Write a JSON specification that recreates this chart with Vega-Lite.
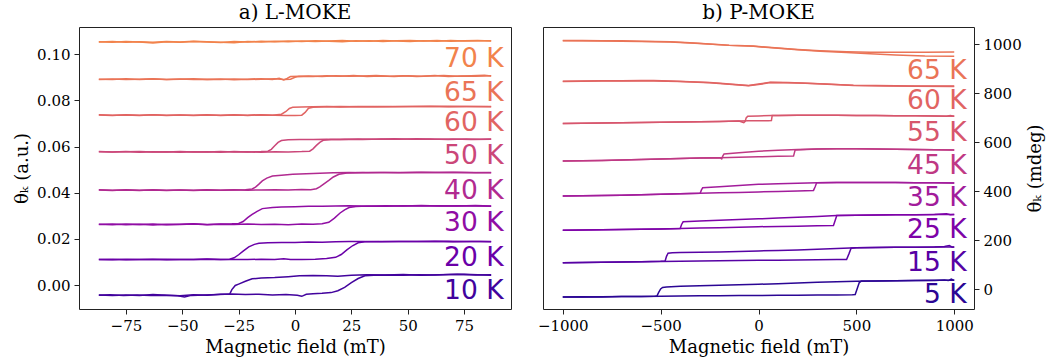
{
"$schema": "https://vega.github.io/schema/vega-lite/v6.json",
"background": "white",
"padding": {"left": 13, "top": 2, "right": 4, "bottom": 2},
"config": {
  "font": "DejaVu Serif",
  "view": {"stroke": "#222222", "strokeWidth": 1},
  "axis": {"domain": false, "grid": false, "tickColor": "#222222", "tickSize": 5, "labelColor": "black", "titleColor": "black", "labelFont": "DejaVu Serif", "titleFont": "DejaVu Serif", "labelFontSize": 15, "titleFontSize": 18, "titleFontWeight": "normal", "labelPadding": 4, "titlePadding": 5},
  "title": {"font": "DejaVu Serif", "fontSize": 20, "fontWeight": "normal", "color": "black", "anchor": "middle", "frame": "group", "offset": 0},
  "concat": {"spacing": 24}
},
"datasets": {
"a": [
{"T":10,"s":"10d","x":-87,"y":-0.0043},{"T":10,"s":"10d","x":-81,"y":-0.0046},{"T":10,"s":"10d","x":-75,"y":-0.0043},{"T":10,"s":"10d","x":-69,"y":-0.0045},{"T":10,"s":"10d","x":-63,"y":-0.0041},{"T":10,"s":"10d","x":-57,"y":-0.0044},{"T":10,"s":"10d","x":-51,"y":-0.0047},{"T":10,"s":"10d","x":-45,"y":-0.0042},{"T":10,"s":"10d","x":-39,"y":-0.0044},{"T":10,"s":"10d","x":-33,"y":-0.0040},{"T":10,"s":"10d","x":-29,"y":-0.0040},{"T":10,"s":"10d","x":-28,"y":-0.0020},{"T":10,"s":"10d","x":-26.5,"y":-0.0002},{"T":10,"s":"10d","x":-25,"y":0.0004},{"T":10,"s":"10d","x":-22,"y":0.0016},{"T":10,"s":"10d","x":-19,"y":0.0027},{"T":10,"s":"10d","x":-15,"y":0.0030},{"T":10,"s":"10d","x":-9,"y":0.0032},{"T":10,"s":"10d","x":-3,"y":0.0036},{"T":10,"s":"10d","x":2,"y":0.0040},{"T":10,"s":"10d","x":8,"y":0.0041},{"T":10,"s":"10d","x":14,"y":0.0040},{"T":10,"s":"10d","x":19,"y":0.0038},{"T":10,"s":"10d","x":25,"y":0.0042},{"T":10,"s":"10d","x":32,"y":0.0044},{"T":10,"s":"10d","x":40,"y":0.0043},{"T":10,"s":"10d","x":48,"y":0.0045},{"T":10,"s":"10d","x":56,"y":0.0042},{"T":10,"s":"10d","x":64,"y":0.0044},{"T":10,"s":"10d","x":72,"y":0.0047},{"T":10,"s":"10d","x":80,"y":0.0043},{"T":10,"s":"10d","x":87,"y":0.0044},
{"T":10,"s":"10u","x":-87,"y":-0.0044},{"T":10,"s":"10u","x":-82,"y":-0.0042},{"T":10,"s":"10u","x":-76,"y":-0.0045},{"T":10,"s":"10u","x":-70,"y":-0.0043},{"T":10,"s":"10u","x":-64,"y":-0.0046},{"T":10,"s":"10u","x":-58,"y":-0.0044},{"T":10,"s":"10u","x":-52,"y":-0.0047},{"T":10,"s":"10u","x":-49,"y":-0.0052},{"T":10,"s":"10u","x":-46,"y":-0.0045},{"T":10,"s":"10u","x":-40,"y":-0.0043},{"T":10,"s":"10u","x":-34,"y":-0.0041},{"T":10,"s":"10u","x":-28,"y":-0.0039},{"T":10,"s":"10u","x":-22,"y":-0.0041},{"T":10,"s":"10u","x":-16,"y":-0.0040},{"T":10,"s":"10u","x":-10,"y":-0.0043},{"T":10,"s":"10u","x":-4,"y":-0.0041},{"T":10,"s":"10u","x":1,"y":-0.0044},{"T":10,"s":"10u","x":3,"y":-0.0049},{"T":10,"s":"10u","x":5,"y":-0.0040},{"T":10,"s":"10u","x":8,"y":-0.0038},{"T":10,"s":"10u","x":12,"y":-0.0036},{"T":10,"s":"10u","x":16,"y":-0.0033},{"T":10,"s":"10u","x":19,"y":-0.0025},{"T":10,"s":"10u","x":22,"y":-0.0010},{"T":10,"s":"10u","x":25,"y":0.0010},{"T":10,"s":"10u","x":28,"y":0.0028},{"T":10,"s":"10u","x":31,"y":0.0040},{"T":10,"s":"10u","x":35,"y":0.0042},{"T":10,"s":"10u","x":41,"y":0.0043},{"T":10,"s":"10u","x":48,"y":0.0042},{"T":10,"s":"10u","x":55,"y":0.0044},{"T":10,"s":"10u","x":62,"y":0.0043},{"T":10,"s":"10u","x":69,"y":0.0045},{"T":10,"s":"10u","x":75,"y":0.0047},{"T":10,"s":"10u","x":81,"y":0.0044},{"T":10,"s":"10u","x":87,"y":0.0042},
{"T":20,"s":"20d","x":-87,"y":0.0111},{"T":20,"s":"20d","x":-81,"y":0.0109},{"T":20,"s":"20d","x":-75,"y":0.0112},{"T":20,"s":"20d","x":-69,"y":0.0110},{"T":20,"s":"20d","x":-63,"y":0.0112},{"T":20,"s":"20d","x":-57,"y":0.0109},{"T":20,"s":"20d","x":-51,"y":0.0111},{"T":20,"s":"20d","x":-45,"y":0.0110},{"T":20,"s":"20d","x":-39,"y":0.0112},{"T":20,"s":"20d","x":-33,"y":0.0111},{"T":20,"s":"20d","x":-29,"y":0.0112},{"T":20,"s":"20d","x":-27,"y":0.0118},{"T":20,"s":"20d","x":-25,"y":0.0131},{"T":20,"s":"20d","x":-23,"y":0.0147},{"T":20,"s":"20d","x":-20.5,"y":0.0165},{"T":20,"s":"20d","x":-18,"y":0.0176},{"T":20,"s":"20d","x":-16,"y":0.0181},{"T":20,"s":"20d","x":-12,"y":0.0183},{"T":20,"s":"20d","x":-6,"y":0.0184},{"T":20,"s":"20d","x":0,"y":0.0184},{"T":20,"s":"20d","x":6,"y":0.0186},{"T":20,"s":"20d","x":12,"y":0.0185},{"T":20,"s":"20d","x":18,"y":0.0187},{"T":20,"s":"20d","x":24,"y":0.0188},{"T":20,"s":"20d","x":30,"y":0.0189},{"T":20,"s":"20d","x":38,"y":0.0187},{"T":20,"s":"20d","x":46,"y":0.0189},{"T":20,"s":"20d","x":54,"y":0.0188},{"T":20,"s":"20d","x":62,"y":0.0190},{"T":20,"s":"20d","x":70,"y":0.0187},{"T":20,"s":"20d","x":78,"y":0.0189},{"T":20,"s":"20d","x":87,"y":0.0188},
{"T":20,"s":"20u","x":-87,"y":0.0110},{"T":20,"s":"20u","x":-81,"y":0.0112},{"T":20,"s":"20u","x":-75,"y":0.0109},{"T":20,"s":"20u","x":-69,"y":0.0111},{"T":20,"s":"20u","x":-63,"y":0.0110},{"T":20,"s":"20u","x":-57,"y":0.0112},{"T":20,"s":"20u","x":-51,"y":0.0110},{"T":20,"s":"20u","x":-45,"y":0.0111},{"T":20,"s":"20u","x":-39,"y":0.0113},{"T":20,"s":"20u","x":-33,"y":0.0110},{"T":20,"s":"20u","x":-27,"y":0.0111},{"T":20,"s":"20u","x":-21,"y":0.0110},{"T":20,"s":"20u","x":-15,"y":0.0112},{"T":20,"s":"20u","x":-9,"y":0.0110},{"T":20,"s":"20u","x":-5,"y":0.0114},{"T":20,"s":"20u","x":-2,"y":0.0110},{"T":20,"s":"20u","x":3,"y":0.0111},{"T":20,"s":"20u","x":9,"y":0.0112},{"T":20,"s":"20u","x":14,"y":0.0115},{"T":20,"s":"20u","x":18,"y":0.0120},{"T":20,"s":"20u","x":20.5,"y":0.0132},{"T":20,"s":"20u","x":23,"y":0.0152},{"T":20,"s":"20u","x":25.5,"y":0.0170},{"T":20,"s":"20u","x":28,"y":0.0183},{"T":20,"s":"20u","x":31,"y":0.0187},{"T":20,"s":"20u","x":37,"y":0.0189},{"T":20,"s":"20u","x":44,"y":0.0188},{"T":20,"s":"20u","x":52,"y":0.0189},{"T":20,"s":"20u","x":60,"y":0.0188},{"T":20,"s":"20u","x":68,"y":0.0190},{"T":20,"s":"20u","x":76,"y":0.0188},{"T":20,"s":"20u","x":82,"y":0.0189},{"T":20,"s":"20u","x":87,"y":0.0187},
{"T":30,"s":"30d","x":-87,"y":0.0263},{"T":30,"s":"30d","x":-81,"y":0.0261},{"T":30,"s":"30d","x":-75,"y":0.0264},{"T":30,"s":"30d","x":-69,"y":0.0262},{"T":30,"s":"30d","x":-63,"y":0.0264},{"T":30,"s":"30d","x":-57,"y":0.0261},{"T":30,"s":"30d","x":-51,"y":0.0263},{"T":30,"s":"30d","x":-45,"y":0.0265},{"T":30,"s":"30d","x":-39,"y":0.0262},{"T":30,"s":"30d","x":-33,"y":0.0264},{"T":30,"s":"30d","x":-28,"y":0.0265},{"T":30,"s":"30d","x":-25,"y":0.0267},{"T":30,"s":"30d","x":-23,"y":0.0275},{"T":30,"s":"30d","x":-21,"y":0.0292},{"T":30,"s":"30d","x":-19,"y":0.0306},{"T":30,"s":"30d","x":-17,"y":0.0318},{"T":30,"s":"30d","x":-14.5,"y":0.0331},{"T":30,"s":"30d","x":-10,"y":0.0336},{"T":30,"s":"30d","x":-6,"y":0.0338},{"T":30,"s":"30d","x":0,"y":0.0339},{"T":30,"s":"30d","x":6,"y":0.0341},{"T":30,"s":"30d","x":12,"y":0.0341},{"T":30,"s":"30d","x":18,"y":0.0342},{"T":30,"s":"30d","x":24,"y":0.0343},{"T":30,"s":"30d","x":32,"y":0.0341},{"T":30,"s":"30d","x":40,"y":0.0343},{"T":30,"s":"30d","x":48,"y":0.0342},{"T":30,"s":"30d","x":56,"y":0.0344},{"T":30,"s":"30d","x":64,"y":0.0342},{"T":30,"s":"30d","x":72,"y":0.0343},{"T":30,"s":"30d","x":80,"y":0.0342},{"T":30,"s":"30d","x":87,"y":0.0341},
{"T":30,"s":"30u","x":-87,"y":0.0262},{"T":30,"s":"30u","x":-81,"y":0.0264},{"T":30,"s":"30u","x":-75,"y":0.0261},{"T":30,"s":"30u","x":-69,"y":0.0263},{"T":30,"s":"30u","x":-63,"y":0.0260},{"T":30,"s":"30u","x":-57,"y":0.0263},{"T":30,"s":"30u","x":-51,"y":0.0262},{"T":30,"s":"30u","x":-45,"y":0.0264},{"T":30,"s":"30u","x":-39,"y":0.0261},{"T":30,"s":"30u","x":-33,"y":0.0263},{"T":30,"s":"30u","x":-27,"y":0.0262},{"T":30,"s":"30u","x":-21,"y":0.0264},{"T":30,"s":"30u","x":-15,"y":0.0262},{"T":30,"s":"30u","x":-9,"y":0.0263},{"T":30,"s":"30u","x":-3,"y":0.0261},{"T":30,"s":"30u","x":3,"y":0.0264},{"T":30,"s":"30u","x":8,"y":0.0263},{"T":30,"s":"30u","x":12,"y":0.0265},{"T":30,"s":"30u","x":15,"y":0.0272},{"T":30,"s":"30u","x":17.5,"y":0.0290},{"T":30,"s":"30u","x":20,"y":0.0312},{"T":30,"s":"30u","x":22,"y":0.0326},{"T":30,"s":"30u","x":24,"y":0.0336},{"T":30,"s":"30u","x":27,"y":0.0340},{"T":30,"s":"30u","x":32,"y":0.0342},{"T":30,"s":"30u","x":40,"y":0.0341},{"T":30,"s":"30u","x":48,"y":0.0343},{"T":30,"s":"30u","x":56,"y":0.0342},{"T":30,"s":"30u","x":64,"y":0.0343},{"T":30,"s":"30u","x":72,"y":0.0342},{"T":30,"s":"30u","x":80,"y":0.0344},{"T":30,"s":"30u","x":87,"y":0.0342},
{"T":40,"s":"40d","x":-87,"y":0.0412},{"T":40,"s":"40d","x":-81,"y":0.0410},{"T":40,"s":"40d","x":-75,"y":0.0413},{"T":40,"s":"40d","x":-69,"y":0.0411},{"T":40,"s":"40d","x":-63,"y":0.0412},{"T":40,"s":"40d","x":-57,"y":0.0410},{"T":40,"s":"40d","x":-51,"y":0.0412},{"T":40,"s":"40d","x":-45,"y":0.0411},{"T":40,"s":"40d","x":-39,"y":0.0413},{"T":40,"s":"40d","x":-33,"y":0.0411},{"T":40,"s":"40d","x":-27,"y":0.0412},{"T":40,"s":"40d","x":-22,"y":0.0413},{"T":40,"s":"40d","x":-19,"y":0.0416},{"T":40,"s":"40d","x":-17.5,"y":0.0424},{"T":40,"s":"40d","x":-16,"y":0.0437},{"T":40,"s":"40d","x":-14.5,"y":0.0451},{"T":40,"s":"40d","x":-12.5,"y":0.0463},{"T":40,"s":"40d","x":-10,"y":0.0472},{"T":40,"s":"40d","x":-6,"y":0.0476},{"T":40,"s":"40d","x":-1,"y":0.0480},{"T":40,"s":"40d","x":5,"y":0.0482},{"T":40,"s":"40d","x":11,"y":0.0484},{"T":40,"s":"40d","x":17,"y":0.0486},{"T":40,"s":"40d","x":24,"y":0.0487},{"T":40,"s":"40d","x":32,"y":0.0486},{"T":40,"s":"40d","x":40,"y":0.0488},{"T":40,"s":"40d","x":48,"y":0.0487},{"T":40,"s":"40d","x":56,"y":0.0489},{"T":40,"s":"40d","x":64,"y":0.0487},{"T":40,"s":"40d","x":72,"y":0.0488},{"T":40,"s":"40d","x":80,"y":0.0486},{"T":40,"s":"40d","x":87,"y":0.0488},
{"T":40,"s":"40u","x":-87,"y":0.0413},{"T":40,"s":"40u","x":-81,"y":0.0411},{"T":40,"s":"40u","x":-75,"y":0.0412},{"T":40,"s":"40u","x":-69,"y":0.0410},{"T":40,"s":"40u","x":-63,"y":0.0413},{"T":40,"s":"40u","x":-57,"y":0.0411},{"T":40,"s":"40u","x":-51,"y":0.0412},{"T":40,"s":"40u","x":-45,"y":0.0410},{"T":40,"s":"40u","x":-39,"y":0.0412},{"T":40,"s":"40u","x":-33,"y":0.0411},{"T":40,"s":"40u","x":-27,"y":0.0413},{"T":40,"s":"40u","x":-21,"y":0.0411},{"T":40,"s":"40u","x":-15,"y":0.0412},{"T":40,"s":"40u","x":-9,"y":0.0413},{"T":40,"s":"40u","x":-3,"y":0.0412},{"T":40,"s":"40u","x":3,"y":0.0414},{"T":40,"s":"40u","x":7,"y":0.0413},{"T":40,"s":"40u","x":9.5,"y":0.0417},{"T":40,"s":"40u","x":11,"y":0.0425},{"T":40,"s":"40u","x":13,"y":0.0439},{"T":40,"s":"40u","x":15,"y":0.0453},{"T":40,"s":"40u","x":17,"y":0.0468},{"T":40,"s":"40u","x":19.5,"y":0.0480},{"T":40,"s":"40u","x":23,"y":0.0485},{"T":40,"s":"40u","x":30,"y":0.0487},{"T":40,"s":"40u","x":38,"y":0.0488},{"T":40,"s":"40u","x":46,"y":0.0486},{"T":40,"s":"40u","x":54,"y":0.0488},{"T":40,"s":"40u","x":62,"y":0.0487},{"T":40,"s":"40u","x":70,"y":0.0489},{"T":40,"s":"40u","x":78,"y":0.0487},{"T":40,"s":"40u","x":87,"y":0.0486},
{"T":50,"s":"50d","x":-87,"y":0.0577},{"T":50,"s":"50d","x":-81,"y":0.0576},{"T":50,"s":"50d","x":-75,"y":0.0578},{"T":50,"s":"50d","x":-69,"y":0.0575},{"T":50,"s":"50d","x":-63,"y":0.0577},{"T":50,"s":"50d","x":-57,"y":0.0576},{"T":50,"s":"50d","x":-51,"y":0.0578},{"T":50,"s":"50d","x":-45,"y":0.0576},{"T":50,"s":"50d","x":-39,"y":0.0577},{"T":50,"s":"50d","x":-33,"y":0.0575},{"T":50,"s":"50d","x":-27,"y":0.0578},{"T":50,"s":"50d","x":-21,"y":0.0576},{"T":50,"s":"50d","x":-15,"y":0.0578},{"T":50,"s":"50d","x":-12,"y":0.0580},{"T":50,"s":"50d","x":-10.5,"y":0.0588},{"T":50,"s":"50d","x":-9,"y":0.0603},{"T":50,"s":"50d","x":-7.5,"y":0.0618},{"T":50,"s":"50d","x":-6,"y":0.0626},{"T":50,"s":"50d","x":-3,"y":0.0629},{"T":50,"s":"50d","x":2,"y":0.0630},{"T":50,"s":"50d","x":8,"y":0.0631},{"T":50,"s":"50d","x":14,"y":0.0632},{"T":50,"s":"50d","x":20,"y":0.0631},{"T":50,"s":"50d","x":28,"y":0.0633},{"T":50,"s":"50d","x":36,"y":0.0632},{"T":50,"s":"50d","x":44,"y":0.0634},{"T":50,"s":"50d","x":52,"y":0.0632},{"T":50,"s":"50d","x":60,"y":0.0633},{"T":50,"s":"50d","x":68,"y":0.0631},{"T":50,"s":"50d","x":76,"y":0.0633},{"T":50,"s":"50d","x":82,"y":0.0632},{"T":50,"s":"50d","x":87,"y":0.0633},
{"T":50,"s":"50u","x":-87,"y":0.0578},{"T":50,"s":"50u","x":-81,"y":0.0576},{"T":50,"s":"50u","x":-75,"y":0.0577},{"T":50,"s":"50u","x":-69,"y":0.0579},{"T":50,"s":"50u","x":-63,"y":0.0576},{"T":50,"s":"50u","x":-57,"y":0.0577},{"T":50,"s":"50u","x":-51,"y":0.0575},{"T":50,"s":"50u","x":-45,"y":0.0577},{"T":50,"s":"50u","x":-39,"y":0.0576},{"T":50,"s":"50u","x":-33,"y":0.0578},{"T":50,"s":"50u","x":-27,"y":0.0576},{"T":50,"s":"50u","x":-21,"y":0.0577},{"T":50,"s":"50u","x":-15,"y":0.0575},{"T":50,"s":"50u","x":-9,"y":0.0577},{"T":50,"s":"50u","x":-3,"y":0.0576},{"T":50,"s":"50u","x":3,"y":0.0578},{"T":50,"s":"50u","x":6.5,"y":0.0580},{"T":50,"s":"50u","x":8,"y":0.0590},{"T":50,"s":"50u","x":9.5,"y":0.0605},{"T":50,"s":"50u","x":11,"y":0.0618},{"T":50,"s":"50u","x":12.5,"y":0.0627},{"T":50,"s":"50u","x":16,"y":0.0630},{"T":50,"s":"50u","x":22,"y":0.0632},{"T":50,"s":"50u","x":30,"y":0.0631},{"T":50,"s":"50u","x":38,"y":0.0633},{"T":50,"s":"50u","x":46,"y":0.0632},{"T":50,"s":"50u","x":54,"y":0.0634},{"T":50,"s":"50u","x":62,"y":0.0632},{"T":50,"s":"50u","x":70,"y":0.0633},{"T":50,"s":"50u","x":78,"y":0.0631},{"T":50,"s":"50u","x":87,"y":0.0632},
{"T":60,"s":"60d","x":-87,"y":0.0737},{"T":60,"s":"60d","x":-81,"y":0.0735},{"T":60,"s":"60d","x":-75,"y":0.0738},{"T":60,"s":"60d","x":-69,"y":0.0736},{"T":60,"s":"60d","x":-63,"y":0.0738},{"T":60,"s":"60d","x":-57,"y":0.0735},{"T":60,"s":"60d","x":-51,"y":0.0737},{"T":60,"s":"60d","x":-45,"y":0.0736},{"T":60,"s":"60d","x":-39,"y":0.0738},{"T":60,"s":"60d","x":-33,"y":0.0735},{"T":60,"s":"60d","x":-27,"y":0.0737},{"T":60,"s":"60d","x":-21,"y":0.0736},{"T":60,"s":"60d","x":-15,"y":0.0738},{"T":60,"s":"60d","x":-10,"y":0.0736},{"T":60,"s":"60d","x":-6,"y":0.0740},{"T":60,"s":"60d","x":-4,"y":0.0752},{"T":60,"s":"60d","x":-2.5,"y":0.0765},{"T":60,"s":"60d","x":-1,"y":0.0770},{"T":60,"s":"60d","x":3,"y":0.0771},{"T":60,"s":"60d","x":8,"y":0.0772},{"T":60,"s":"60d","x":14,"y":0.0773},{"T":60,"s":"60d","x":20,"y":0.0771},{"T":60,"s":"60d","x":28,"y":0.0774},{"T":60,"s":"60d","x":36,"y":0.0772},{"T":60,"s":"60d","x":44,"y":0.0774},{"T":60,"s":"60d","x":52,"y":0.0773},{"T":60,"s":"60d","x":60,"y":0.0775},{"T":60,"s":"60d","x":68,"y":0.0772},{"T":60,"s":"60d","x":76,"y":0.0774},{"T":60,"s":"60d","x":82,"y":0.0773},{"T":60,"s":"60d","x":87,"y":0.0774},
{"T":60,"s":"60u","x":-87,"y":0.0738},{"T":60,"s":"60u","x":-81,"y":0.0736},{"T":60,"s":"60u","x":-75,"y":0.0737},{"T":60,"s":"60u","x":-69,"y":0.0735},{"T":60,"s":"60u","x":-63,"y":0.0738},{"T":60,"s":"60u","x":-57,"y":0.0736},{"T":60,"s":"60u","x":-51,"y":0.0737},{"T":60,"s":"60u","x":-45,"y":0.0735},{"T":60,"s":"60u","x":-39,"y":0.0737},{"T":60,"s":"60u","x":-33,"y":0.0736},{"T":60,"s":"60u","x":-27,"y":0.0738},{"T":60,"s":"60u","x":-21,"y":0.0735},{"T":60,"s":"60u","x":-15,"y":0.0737},{"T":60,"s":"60u","x":-9,"y":0.0736},{"T":60,"s":"60u","x":-4,"y":0.0734},{"T":60,"s":"60u","x":0,"y":0.0735},{"T":60,"s":"60u","x":3,"y":0.0736},{"T":60,"s":"60u","x":4.5,"y":0.0748},{"T":60,"s":"60u","x":6,"y":0.0766},{"T":60,"s":"60u","x":8,"y":0.0770},{"T":60,"s":"60u","x":13,"y":0.0772},{"T":60,"s":"60u","x":20,"y":0.0773},{"T":60,"s":"60u","x":28,"y":0.0772},{"T":60,"s":"60u","x":36,"y":0.0774},{"T":60,"s":"60u","x":44,"y":0.0772},{"T":60,"s":"60u","x":52,"y":0.0774},{"T":60,"s":"60u","x":60,"y":0.0773},{"T":60,"s":"60u","x":68,"y":0.0775},{"T":60,"s":"60u","x":76,"y":0.0773},{"T":60,"s":"60u","x":87,"y":0.0772},
{"T":65,"s":"65d","x":-87,"y":0.0892},{"T":65,"s":"65d","x":-81,"y":0.0890},{"T":65,"s":"65d","x":-75,"y":0.0894},{"T":65,"s":"65d","x":-69,"y":0.0891},{"T":65,"s":"65d","x":-63,"y":0.0893},{"T":65,"s":"65d","x":-57,"y":0.0890},{"T":65,"s":"65d","x":-51,"y":0.0892},{"T":65,"s":"65d","x":-45,"y":0.0894},{"T":65,"s":"65d","x":-39,"y":0.0891},{"T":65,"s":"65d","x":-33,"y":0.0893},{"T":65,"s":"65d","x":-27,"y":0.0889},{"T":65,"s":"65d","x":-21,"y":0.0892},{"T":65,"s":"65d","x":-15,"y":0.0894},{"T":65,"s":"65d","x":-10,"y":0.0891},{"T":65,"s":"65d","x":-7,"y":0.0896},{"T":65,"s":"65d","x":-5,"y":0.0889},{"T":65,"s":"65d","x":-3.5,"y":0.0895},{"T":65,"s":"65d","x":-2,"y":0.0903},{"T":65,"s":"65d","x":2,"y":0.0905},{"T":65,"s":"65d","x":8,"y":0.0904},{"T":65,"s":"65d","x":14,"y":0.0907},{"T":65,"s":"65d","x":20,"y":0.0905},{"T":65,"s":"65d","x":26,"y":0.0908},{"T":65,"s":"65d","x":32,"y":0.0904},{"T":65,"s":"65d","x":38,"y":0.0906},{"T":65,"s":"65d","x":44,"y":0.0903},{"T":65,"s":"65d","x":50,"y":0.0907},{"T":65,"s":"65d","x":56,"y":0.0905},{"T":65,"s":"65d","x":62,"y":0.0908},{"T":65,"s":"65d","x":68,"y":0.0904},{"T":65,"s":"65d","x":74,"y":0.0906},{"T":65,"s":"65d","x":80,"y":0.0905},{"T":65,"s":"65d","x":87,"y":0.0907},
{"T":65,"s":"65u","x":-87,"y":0.0891},{"T":65,"s":"65u","x":-81,"y":0.0893},{"T":65,"s":"65u","x":-75,"y":0.0890},{"T":65,"s":"65u","x":-69,"y":0.0892},{"T":65,"s":"65u","x":-63,"y":0.0894},{"T":65,"s":"65u","x":-57,"y":0.0891},{"T":65,"s":"65u","x":-51,"y":0.0893},{"T":65,"s":"65u","x":-45,"y":0.0890},{"T":65,"s":"65u","x":-39,"y":0.0892},{"T":65,"s":"65u","x":-33,"y":0.0891},{"T":65,"s":"65u","x":-27,"y":0.0893},{"T":65,"s":"65u","x":-21,"y":0.0890},{"T":65,"s":"65u","x":-15,"y":0.0892},{"T":65,"s":"65u","x":-9,"y":0.0894},{"T":65,"s":"65u","x":-5,"y":0.0890},{"T":65,"s":"65u","x":-2,"y":0.0892},{"T":65,"s":"65u","x":0,"y":0.0900},{"T":65,"s":"65u","x":1.5,"y":0.0904},{"T":65,"s":"65u","x":6,"y":0.0906},{"T":65,"s":"65u","x":12,"y":0.0904},{"T":65,"s":"65u","x":18,"y":0.0907},{"T":65,"s":"65u","x":24,"y":0.0905},{"T":65,"s":"65u","x":30,"y":0.0906},{"T":65,"s":"65u","x":36,"y":0.0908},{"T":65,"s":"65u","x":42,"y":0.0905},{"T":65,"s":"65u","x":48,"y":0.0907},{"T":65,"s":"65u","x":54,"y":0.0904},{"T":65,"s":"65u","x":60,"y":0.0906},{"T":65,"s":"65u","x":66,"y":0.0908},{"T":65,"s":"65u","x":72,"y":0.0905},{"T":65,"s":"65u","x":78,"y":0.0907},{"T":65,"s":"65u","x":84,"y":0.0909},{"T":65,"s":"65u","x":87,"y":0.0906},
{"T":70,"s":"70d","x":-87,"y":0.1054},{"T":70,"s":"70d","x":-81,"y":0.1052},{"T":70,"s":"70d","x":-75,"y":0.1055},{"T":70,"s":"70d","x":-69,"y":0.1053},{"T":70,"s":"70d","x":-63,"y":0.1049},{"T":70,"s":"70d","x":-57,"y":0.1054},{"T":70,"s":"70d","x":-51,"y":0.1052},{"T":70,"s":"70d","x":-45,"y":0.1055},{"T":70,"s":"70d","x":-39,"y":0.1053},{"T":70,"s":"70d","x":-33,"y":0.1051},{"T":70,"s":"70d","x":-27,"y":0.1055},{"T":70,"s":"70d","x":-21,"y":0.1053},{"T":70,"s":"70d","x":-15,"y":0.1056},{"T":70,"s":"70d","x":-9,"y":0.1054},{"T":70,"s":"70d","x":-3,"y":0.1057},{"T":70,"s":"70d","x":3,"y":0.1055},{"T":70,"s":"70d","x":9,"y":0.1058},{"T":70,"s":"70d","x":15,"y":0.1056},{"T":70,"s":"70d","x":21,"y":0.1054},{"T":70,"s":"70d","x":27,"y":0.1058},{"T":70,"s":"70d","x":33,"y":0.1056},{"T":70,"s":"70d","x":39,"y":0.1059},{"T":70,"s":"70d","x":45,"y":0.1057},{"T":70,"s":"70d","x":51,"y":0.1055},{"T":70,"s":"70d","x":57,"y":0.1058},{"T":70,"s":"70d","x":63,"y":0.1056},{"T":70,"s":"70d","x":69,"y":0.1059},{"T":70,"s":"70d","x":75,"y":0.1057},{"T":70,"s":"70d","x":81,"y":0.1058},{"T":70,"s":"70d","x":87,"y":0.1058},
{"T":70,"s":"70u","x":-87,"y":0.1053},{"T":70,"s":"70u","x":-81,"y":0.1055},{"T":70,"s":"70u","x":-75,"y":0.1052},{"T":70,"s":"70u","x":-69,"y":0.1054},{"T":70,"s":"70u","x":-63,"y":0.1052},{"T":70,"s":"70u","x":-57,"y":0.1055},{"T":70,"s":"70u","x":-51,"y":0.1053},{"T":70,"s":"70u","x":-45,"y":0.1056},{"T":70,"s":"70u","x":-39,"y":0.1054},{"T":70,"s":"70u","x":-33,"y":0.1052},{"T":70,"s":"70u","x":-27,"y":0.1050},{"T":70,"s":"70u","x":-21,"y":0.1055},{"T":70,"s":"70u","x":-15,"y":0.1053},{"T":70,"s":"70u","x":-9,"y":0.1056},{"T":70,"s":"70u","x":-3,"y":0.1054},{"T":70,"s":"70u","x":3,"y":0.1057},{"T":70,"s":"70u","x":9,"y":0.1055},{"T":70,"s":"70u","x":15,"y":0.1057},{"T":70,"s":"70u","x":21,"y":0.1059},{"T":70,"s":"70u","x":27,"y":0.1056},{"T":70,"s":"70u","x":33,"y":0.1058},{"T":70,"s":"70u","x":39,"y":0.1055},{"T":70,"s":"70u","x":45,"y":0.1058},{"T":70,"s":"70u","x":51,"y":0.1060},{"T":70,"s":"70u","x":57,"y":0.1057},{"T":70,"s":"70u","x":63,"y":0.1059},{"T":70,"s":"70u","x":69,"y":0.1056},{"T":70,"s":"70u","x":75,"y":0.1058},{"T":70,"s":"70u","x":81,"y":0.1060},{"T":70,"s":"70u","x":87,"y":0.1057}
],
"b": [
{"T":5,"s":"5d","x":-1000,"y":-31},{"T":5,"s":"5d","x":-900,"y":-30},{"T":5,"s":"5d","x":-800,"y":-31},{"T":5,"s":"5d","x":-700,"y":-29},{"T":5,"s":"5d","x":-600,"y":-29},{"T":5,"s":"5d","x":-530,"y":-28},{"T":5,"s":"5d","x":-519,"y":-27},{"T":5,"s":"5d","x":-510,"y":-12},{"T":5,"s":"5d","x":-500,"y":2},{"T":5,"s":"5d","x":-490,"y":8},{"T":5,"s":"5d","x":-470,"y":10},{"T":5,"s":"5d","x":-400,"y":13},{"T":5,"s":"5d","x":-300,"y":15},{"T":5,"s":"5d","x":-200,"y":17},{"T":5,"s":"5d","x":-100,"y":19},{"T":5,"s":"5d","x":0,"y":21},{"T":5,"s":"5d","x":100,"y":23},{"T":5,"s":"5d","x":200,"y":26},{"T":5,"s":"5d","x":300,"y":29},{"T":5,"s":"5d","x":400,"y":31},{"T":5,"s":"5d","x":500,"y":33},{"T":5,"s":"5d","x":600,"y":34},{"T":5,"s":"5d","x":700,"y":35},{"T":5,"s":"5d","x":800,"y":36},{"T":5,"s":"5d","x":900,"y":36},{"T":5,"s":"5d","x":950,"y":38},{"T":5,"s":"5d","x":970,"y":36},{"T":5,"s":"5d","x":985,"y":42},{"T":5,"s":"5d","x":1000,"y":37},
{"T":5,"s":"5u","x":-1000,"y":-31},{"T":5,"s":"5u","x":-900,"y":-31},{"T":5,"s":"5u","x":-800,"y":-30},{"T":5,"s":"5u","x":-700,"y":-29},{"T":5,"s":"5u","x":-600,"y":-29},{"T":5,"s":"5u","x":-500,"y":-28},{"T":5,"s":"5u","x":-400,"y":-27},{"T":5,"s":"5u","x":-300,"y":-26},{"T":5,"s":"5u","x":-200,"y":-26},{"T":5,"s":"5u","x":-100,"y":-25},{"T":5,"s":"5u","x":0,"y":-25},{"T":5,"s":"5u","x":100,"y":-24},{"T":5,"s":"5u","x":200,"y":-24},{"T":5,"s":"5u","x":300,"y":-23},{"T":5,"s":"5u","x":400,"y":-23},{"T":5,"s":"5u","x":480,"y":-22},{"T":5,"s":"5u","x":494,"y":-21},{"T":5,"s":"5u","x":505,"y":5},{"T":5,"s":"5u","x":515,"y":28},{"T":5,"s":"5u","x":525,"y":34},{"T":5,"s":"5u","x":600,"y":34},{"T":5,"s":"5u","x":700,"y":35},{"T":5,"s":"5u","x":800,"y":36},{"T":5,"s":"5u","x":900,"y":37},{"T":5,"s":"5u","x":1000,"y":37},
{"T":15,"s":"15d","x":-1000,"y":109},{"T":15,"s":"15d","x":-900,"y":110},{"T":15,"s":"15d","x":-800,"y":111},{"T":15,"s":"15d","x":-700,"y":112},{"T":15,"s":"15d","x":-600,"y":113},{"T":15,"s":"15d","x":-500,"y":115},{"T":15,"s":"15d","x":-477,"y":116},{"T":15,"s":"15d","x":-470,"y":135},{"T":15,"s":"15d","x":-462,"y":148},{"T":15,"s":"15d","x":-440,"y":150},{"T":15,"s":"15d","x":-400,"y":151},{"T":15,"s":"15d","x":-300,"y":152},{"T":15,"s":"15d","x":-200,"y":153},{"T":15,"s":"15d","x":-100,"y":155},{"T":15,"s":"15d","x":0,"y":157},{"T":15,"s":"15d","x":100,"y":159},{"T":15,"s":"15d","x":200,"y":161},{"T":15,"s":"15d","x":300,"y":164},{"T":15,"s":"15d","x":400,"y":167},{"T":15,"s":"15d","x":500,"y":170},{"T":15,"s":"15d","x":600,"y":171},{"T":15,"s":"15d","x":700,"y":172},{"T":15,"s":"15d","x":800,"y":172},{"T":15,"s":"15d","x":900,"y":173},{"T":15,"s":"15d","x":950,"y":175},{"T":15,"s":"15d","x":975,"y":179},{"T":15,"s":"15d","x":990,"y":172},{"T":15,"s":"15d","x":1000,"y":173},
{"T":15,"s":"15u","x":-1000,"y":109},{"T":15,"s":"15u","x":-900,"y":110},{"T":15,"s":"15u","x":-800,"y":111},{"T":15,"s":"15u","x":-700,"y":112},{"T":15,"s":"15u","x":-600,"y":113},{"T":15,"s":"15u","x":-500,"y":114},{"T":15,"s":"15u","x":-400,"y":115},{"T":15,"s":"15u","x":-300,"y":116},{"T":15,"s":"15u","x":-200,"y":117},{"T":15,"s":"15u","x":-100,"y":118},{"T":15,"s":"15u","x":0,"y":119},{"T":15,"s":"15u","x":100,"y":119},{"T":15,"s":"15u","x":200,"y":120},{"T":15,"s":"15u","x":300,"y":121},{"T":15,"s":"15u","x":400,"y":122},{"T":15,"s":"15u","x":450,"y":122},{"T":15,"s":"15u","x":462,"y":145},{"T":15,"s":"15u","x":473,"y":168},{"T":15,"s":"15u","x":500,"y":170},{"T":15,"s":"15u","x":600,"y":171},{"T":15,"s":"15u","x":700,"y":172},{"T":15,"s":"15u","x":800,"y":172},{"T":15,"s":"15u","x":900,"y":173},{"T":15,"s":"15u","x":1000,"y":173},
{"T":25,"s":"25d","x":-1000,"y":241},{"T":25,"s":"25d","x":-900,"y":242},{"T":25,"s":"25d","x":-800,"y":243},{"T":25,"s":"25d","x":-700,"y":244},{"T":25,"s":"25d","x":-600,"y":245},{"T":25,"s":"25d","x":-500,"y":247},{"T":25,"s":"25d","x":-400,"y":249},{"T":25,"s":"25d","x":-393,"y":265},{"T":25,"s":"25d","x":-385,"y":276},{"T":25,"s":"25d","x":-300,"y":279},{"T":25,"s":"25d","x":-200,"y":282},{"T":25,"s":"25d","x":-100,"y":285},{"T":25,"s":"25d","x":0,"y":288},{"T":25,"s":"25d","x":100,"y":291},{"T":25,"s":"25d","x":200,"y":294},{"T":25,"s":"25d","x":300,"y":298},{"T":25,"s":"25d","x":400,"y":302},{"T":25,"s":"25d","x":500,"y":303},{"T":25,"s":"25d","x":600,"y":304},{"T":25,"s":"25d","x":700,"y":305},{"T":25,"s":"25d","x":800,"y":305},{"T":25,"s":"25d","x":900,"y":306},{"T":25,"s":"25d","x":960,"y":309},{"T":25,"s":"25d","x":980,"y":305},{"T":25,"s":"25d","x":1000,"y":306},
{"T":25,"s":"25u","x":-1000,"y":241},{"T":25,"s":"25u","x":-900,"y":242},{"T":25,"s":"25u","x":-800,"y":243},{"T":25,"s":"25u","x":-700,"y":244},{"T":25,"s":"25u","x":-600,"y":245},{"T":25,"s":"25u","x":-500,"y":247},{"T":25,"s":"25u","x":-400,"y":249},{"T":25,"s":"25u","x":-300,"y":251},{"T":25,"s":"25u","x":-200,"y":252},{"T":25,"s":"25u","x":-100,"y":254},{"T":25,"s":"25u","x":0,"y":256},{"T":25,"s":"25u","x":100,"y":257},{"T":25,"s":"25u","x":200,"y":258},{"T":25,"s":"25u","x":300,"y":260},{"T":25,"s":"25u","x":383,"y":261},{"T":25,"s":"25u","x":392,"y":282},{"T":25,"s":"25u","x":400,"y":302},{"T":25,"s":"25u","x":500,"y":303},{"T":25,"s":"25u","x":600,"y":304},{"T":25,"s":"25u","x":700,"y":305},{"T":25,"s":"25u","x":800,"y":305},{"T":25,"s":"25u","x":900,"y":306},{"T":25,"s":"25u","x":1000,"y":306},
{"T":35,"s":"35d","x":-1000,"y":381},{"T":35,"s":"35d","x":-900,"y":382},{"T":35,"s":"35d","x":-800,"y":383},{"T":35,"s":"35d","x":-700,"y":384},{"T":35,"s":"35d","x":-600,"y":386},{"T":35,"s":"35d","x":-500,"y":388},{"T":35,"s":"35d","x":-400,"y":390},{"T":35,"s":"35d","x":-298,"y":392},{"T":35,"s":"35d","x":-292,"y":405},{"T":35,"s":"35d","x":-285,"y":415},{"T":35,"s":"35d","x":-200,"y":419},{"T":35,"s":"35d","x":-100,"y":424},{"T":35,"s":"35d","x":0,"y":429},{"T":35,"s":"35d","x":100,"y":431},{"T":35,"s":"35d","x":200,"y":433},{"T":35,"s":"35d","x":300,"y":435},{"T":35,"s":"35d","x":400,"y":436},{"T":35,"s":"35d","x":500,"y":436},{"T":35,"s":"35d","x":600,"y":436},{"T":35,"s":"35d","x":700,"y":436},{"T":35,"s":"35d","x":800,"y":435},{"T":35,"s":"35d","x":900,"y":435},{"T":35,"s":"35d","x":1000,"y":434},
{"T":35,"s":"35u","x":-1000,"y":381},{"T":35,"s":"35u","x":-900,"y":382},{"T":35,"s":"35u","x":-800,"y":383},{"T":35,"s":"35u","x":-700,"y":384},{"T":35,"s":"35u","x":-600,"y":386},{"T":35,"s":"35u","x":-500,"y":388},{"T":35,"s":"35u","x":-400,"y":390},{"T":35,"s":"35u","x":-300,"y":392},{"T":35,"s":"35u","x":-200,"y":394},{"T":35,"s":"35u","x":-100,"y":396},{"T":35,"s":"35u","x":0,"y":398},{"T":35,"s":"35u","x":100,"y":400},{"T":35,"s":"35u","x":200,"y":402},{"T":35,"s":"35u","x":281,"y":404},{"T":35,"s":"35u","x":290,"y":420},{"T":35,"s":"35u","x":297,"y":435},{"T":35,"s":"35u","x":400,"y":436},{"T":35,"s":"35u","x":500,"y":436},{"T":35,"s":"35u","x":600,"y":436},{"T":35,"s":"35u","x":700,"y":436},{"T":35,"s":"35u","x":800,"y":435},{"T":35,"s":"35u","x":900,"y":435},{"T":35,"s":"35u","x":1000,"y":434},
{"T":45,"s":"45d","x":-1000,"y":524},{"T":45,"s":"45d","x":-900,"y":525},{"T":45,"s":"45d","x":-800,"y":526},{"T":45,"s":"45d","x":-700,"y":528},{"T":45,"s":"45d","x":-600,"y":530},{"T":45,"s":"45d","x":-500,"y":532},{"T":45,"s":"45d","x":-400,"y":534},{"T":45,"s":"45d","x":-300,"y":536},{"T":45,"s":"45d","x":-196,"y":537},{"T":45,"s":"45d","x":-188,"y":533},{"T":45,"s":"45d","x":-182,"y":545},{"T":45,"s":"45d","x":-176,"y":553},{"T":45,"s":"45d","x":-100,"y":558},{"T":45,"s":"45d","x":0,"y":564},{"T":45,"s":"45d","x":100,"y":568},{"T":45,"s":"45d","x":200,"y":571},{"T":45,"s":"45d","x":300,"y":573},{"T":45,"s":"45d","x":400,"y":574},{"T":45,"s":"45d","x":500,"y":574},{"T":45,"s":"45d","x":600,"y":573},{"T":45,"s":"45d","x":700,"y":572},{"T":45,"s":"45d","x":800,"y":571},{"T":45,"s":"45d","x":900,"y":570},{"T":45,"s":"45d","x":1000,"y":569},
{"T":45,"s":"45u","x":-1000,"y":524},{"T":45,"s":"45u","x":-900,"y":525},{"T":45,"s":"45u","x":-800,"y":526},{"T":45,"s":"45u","x":-700,"y":528},{"T":45,"s":"45u","x":-600,"y":530},{"T":45,"s":"45u","x":-500,"y":532},{"T":45,"s":"45u","x":-400,"y":534},{"T":45,"s":"45u","x":-300,"y":536},{"T":45,"s":"45u","x":-200,"y":537},{"T":45,"s":"45u","x":-100,"y":539},{"T":45,"s":"45u","x":0,"y":541},{"T":45,"s":"45u","x":100,"y":543},{"T":45,"s":"45u","x":179,"y":544},{"T":45,"s":"45u","x":183,"y":556},{"T":45,"s":"45u","x":187,"y":569},{"T":45,"s":"45u","x":300,"y":573},{"T":45,"s":"45u","x":400,"y":574},{"T":45,"s":"45u","x":500,"y":574},{"T":45,"s":"45u","x":600,"y":573},{"T":45,"s":"45u","x":700,"y":572},{"T":45,"s":"45u","x":800,"y":571},{"T":45,"s":"45u","x":900,"y":570},{"T":45,"s":"45u","x":1000,"y":569},
{"T":55,"s":"55d","x":-1000,"y":677},{"T":55,"s":"55d","x":-900,"y":678},{"T":55,"s":"55d","x":-800,"y":679},{"T":55,"s":"55d","x":-700,"y":680},{"T":55,"s":"55d","x":-600,"y":681},{"T":55,"s":"55d","x":-500,"y":682},{"T":55,"s":"55d","x":-400,"y":683},{"T":55,"s":"55d","x":-300,"y":684},{"T":55,"s":"55d","x":-200,"y":685},{"T":55,"s":"55d","x":-100,"y":687},{"T":55,"s":"55d","x":-75,"y":681},{"T":55,"s":"55d","x":-68,"y":686},{"T":55,"s":"55d","x":-63,"y":700},{"T":55,"s":"55d","x":-55,"y":707},{"T":55,"s":"55d","x":0,"y":708},{"T":55,"s":"55d","x":68,"y":710},{"T":55,"s":"55d","x":100,"y":710},{"T":55,"s":"55d","x":200,"y":711},{"T":55,"s":"55d","x":300,"y":711},{"T":55,"s":"55d","x":400,"y":711},{"T":55,"s":"55d","x":500,"y":710},{"T":55,"s":"55d","x":600,"y":710},{"T":55,"s":"55d","x":700,"y":709},{"T":55,"s":"55d","x":800,"y":709},{"T":55,"s":"55d","x":900,"y":708},{"T":55,"s":"55d","x":960,"y":707},{"T":55,"s":"55d","x":980,"y":710},{"T":55,"s":"55d","x":1000,"y":707},
{"T":55,"s":"55u","x":-1000,"y":677},{"T":55,"s":"55u","x":-900,"y":678},{"T":55,"s":"55u","x":-800,"y":679},{"T":55,"s":"55u","x":-700,"y":680},{"T":55,"s":"55u","x":-600,"y":681},{"T":55,"s":"55u","x":-500,"y":682},{"T":55,"s":"55u","x":-400,"y":683},{"T":55,"s":"55u","x":-300,"y":684},{"T":55,"s":"55u","x":-200,"y":685},{"T":55,"s":"55u","x":-100,"y":687},{"T":55,"s":"55u","x":-50,"y":688},{"T":55,"s":"55u","x":0,"y":688},{"T":55,"s":"55u","x":50,"y":688},{"T":55,"s":"55u","x":66,"y":689},{"T":55,"s":"55u","x":70,"y":710},{"T":55,"s":"55u","x":100,"y":710},{"T":55,"s":"55u","x":200,"y":711},{"T":55,"s":"55u","x":300,"y":711},{"T":55,"s":"55u","x":400,"y":711},{"T":55,"s":"55u","x":500,"y":710},{"T":55,"s":"55u","x":600,"y":710},{"T":55,"s":"55u","x":700,"y":709},{"T":55,"s":"55u","x":800,"y":709},{"T":55,"s":"55u","x":900,"y":708},{"T":55,"s":"55u","x":1000,"y":707},
{"T":60,"s":"60d","x":-1000,"y":850},{"T":60,"s":"60d","x":-900,"y":851},{"T":60,"s":"60d","x":-800,"y":852},{"T":60,"s":"60d","x":-700,"y":852},{"T":60,"s":"60d","x":-600,"y":853},{"T":60,"s":"60d","x":-536,"y":853},{"T":60,"s":"60d","x":-450,"y":851},{"T":60,"s":"60d","x":-350,"y":848},{"T":60,"s":"60d","x":-250,"y":844},{"T":60,"s":"60d","x":-196,"y":841},{"T":60,"s":"60d","x":-150,"y":838},{"T":60,"s":"60d","x":-100,"y":835},{"T":60,"s":"60d","x":-51,"y":832},{"T":60,"s":"60d","x":0,"y":838},{"T":60,"s":"60d","x":60,"y":845},{"T":60,"s":"60d","x":150,"y":844},{"T":60,"s":"60d","x":250,"y":841},{"T":60,"s":"60d","x":350,"y":837},{"T":60,"s":"60d","x":485,"y":833},{"T":60,"s":"60d","x":600,"y":832},{"T":60,"s":"60d","x":700,"y":831},{"T":60,"s":"60d","x":800,"y":830},{"T":60,"s":"60d","x":900,"y":830},{"T":60,"s":"60d","x":1000,"y":830},
{"T":60,"s":"60u","x":-1000,"y":849},{"T":60,"s":"60u","x":-800,"y":851},{"T":60,"s":"60u","x":-600,"y":852},{"T":60,"s":"60u","x":-400,"y":849},{"T":60,"s":"60u","x":-250,"y":843},{"T":60,"s":"60u","x":-150,"y":837},{"T":60,"s":"60u","x":-51,"y":831},{"T":60,"s":"60u","x":0,"y":836},{"T":60,"s":"60u","x":60,"y":844},{"T":60,"s":"60u","x":200,"y":842},{"T":60,"s":"60u","x":350,"y":838},{"T":60,"s":"60u","x":485,"y":832},{"T":60,"s":"60u","x":650,"y":830},{"T":60,"s":"60u","x":800,"y":829},{"T":60,"s":"60u","x":1000,"y":828},
{"T":65,"s":"65d","x":-1000,"y":1016},{"T":65,"s":"65d","x":-900,"y":1016},{"T":65,"s":"65d","x":-800,"y":1015},{"T":65,"s":"65d","x":-700,"y":1015},{"T":65,"s":"65d","x":-600,"y":1013},{"T":65,"s":"65d","x":-451,"y":1011},{"T":65,"s":"65d","x":-350,"y":1007},{"T":65,"s":"65d","x":-250,"y":1002},{"T":65,"s":"65d","x":-150,"y":997},{"T":65,"s":"65d","x":-26,"y":993},{"T":65,"s":"65d","x":100,"y":985},{"T":65,"s":"65d","x":200,"y":979},{"T":65,"s":"65d","x":315,"y":974},{"T":65,"s":"65d","x":450,"y":970},{"T":65,"s":"65d","x":570,"y":968},{"T":65,"s":"65d","x":700,"y":968},{"T":65,"s":"65d","x":850,"y":968},{"T":65,"s":"65d","x":1000,"y":969},
{"T":65,"s":"65u","x":-1000,"y":1015},{"T":65,"s":"65u","x":-800,"y":1014},{"T":65,"s":"65u","x":-600,"y":1012},{"T":65,"s":"65u","x":-451,"y":1010},{"T":65,"s":"65u","x":-300,"y":1004},{"T":65,"s":"65u","x":-150,"y":996},{"T":65,"s":"65u","x":-26,"y":992},{"T":65,"s":"65u","x":100,"y":984},{"T":65,"s":"65u","x":200,"y":978},{"T":65,"s":"65u","x":315,"y":972},{"T":65,"s":"65u","x":450,"y":967},{"T":65,"s":"65u","x":570,"y":962},{"T":65,"s":"65u","x":700,"y":957},{"T":65,"s":"65u","x":850,"y":953},{"T":65,"s":"65u","x":1000,"y":952}
],
"la": [
{"T":70,"x":92.5,"y":0.0946,"t":"70 K"},{"T":65,"x":92.5,"y":0.0798,"t":"65 K"},{"T":60,"x":92.5,"y":0.0668,"t":"60 K"},{"T":50,"x":92.5,"y":0.0524,"t":"50 K"},{"T":40,"x":92.5,"y":0.0373,"t":"40 K"},{"T":30,"x":92.5,"y":0.0234,"t":"30 K"},{"T":20,"x":92.5,"y":0.0082,"t":"20 K"},{"T":10,"x":92.5,"y":-0.0059,"t":"10 K"}
],
"lb": [
{"T":65,"x":1063,"y":857,"t":"65 K"},{"T":60,"x":1063,"y":735,"t":"60 K"},{"T":55,"x":1063,"y":605,"t":"55 K"},{"T":45,"x":1063,"y":469,"t":"45 K"},{"T":35,"x":1063,"y":340,"t":"35 K"},{"T":25,"x":1063,"y":211,"t":"25 K"},{"T":15,"x":1063,"y":75,"t":"15 K"},{"T":5,"x":1063,"y":-55,"t":"5 K"}
]
},
"hconcat": [
{
  "width": 432, "height": 282,
  "title": {"text": "a) L-MOKE"},
  "encoding": {
    "x": {"field": "x", "type": "quantitative", "scale": {"domain": [-95.8, 95.8], "nice": false, "zero": false}, "axis": {"values": [-75, -50, -25, 0, 25, 50, 75], "format": "d", "title": "Magnetic field (mT)"}},
    "y": {"field": "y", "type": "quantitative", "scale": {"domain": [-0.0104, 0.1118], "nice": false, "zero": false}, "axis": {"values": [0, 0.02, 0.04, 0.06, 0.08, 0.1], "format": ".2f", "title": "θₖ (a.u.)"}},
    "color": {"field": "T", "type": "quantitative", "scale": {"scheme": "plasma", "domain": [0, 100]}, "legend": null}
  },
  "layer": [
    {"data": {"name": "a"}, "mark": {"type": "line", "strokeWidth": 1.5}, "encoding": {"detail": {"field": "s", "type": "nominal"}}},
    {"data": {"name": "la"}, "mark": {"type": "text", "align": "right", "baseline": "alphabetic", "font": "DejaVu Sans", "fontSize": 26.5}, "encoding": {"text": {"field": "t", "type": "nominal"}}}
  ]
},
{
  "width": 431, "height": 282,
  "title": {"text": "b) P-MOKE"},
  "encoding": {
    "x": {"field": "x", "type": "quantitative", "scale": {"domain": [-1101, 1101], "nice": false, "zero": false}, "axis": {"values": [-1000, -500, 0, 500, 1000], "format": "d", "title": "Magnetic field (mT)"}},
    "y": {"field": "y", "type": "quantitative", "scale": {"domain": [-80, 1071], "nice": false, "zero": false}, "axis": {"orient": "right", "values": [0, 200, 400, 600, 800, 1000], "format": "d", "title": "θₖ (mdeg)", "titleAngle": 270, "titleBaseline": "top"}},
    "color": {"field": "T", "type": "quantitative", "scale": {"scheme": "plasma", "domain": [0, 100]}, "legend": null}
  },
  "layer": [
    {"data": {"name": "b"}, "mark": {"type": "line", "strokeWidth": 1.5}, "encoding": {"detail": {"field": "s", "type": "nominal"}}},
    {"data": {"name": "lb"}, "mark": {"type": "text", "align": "right", "baseline": "alphabetic", "font": "DejaVu Sans", "fontSize": 26.5}, "encoding": {"text": {"field": "t", "type": "nominal"}}}
  ]
}
]
}
